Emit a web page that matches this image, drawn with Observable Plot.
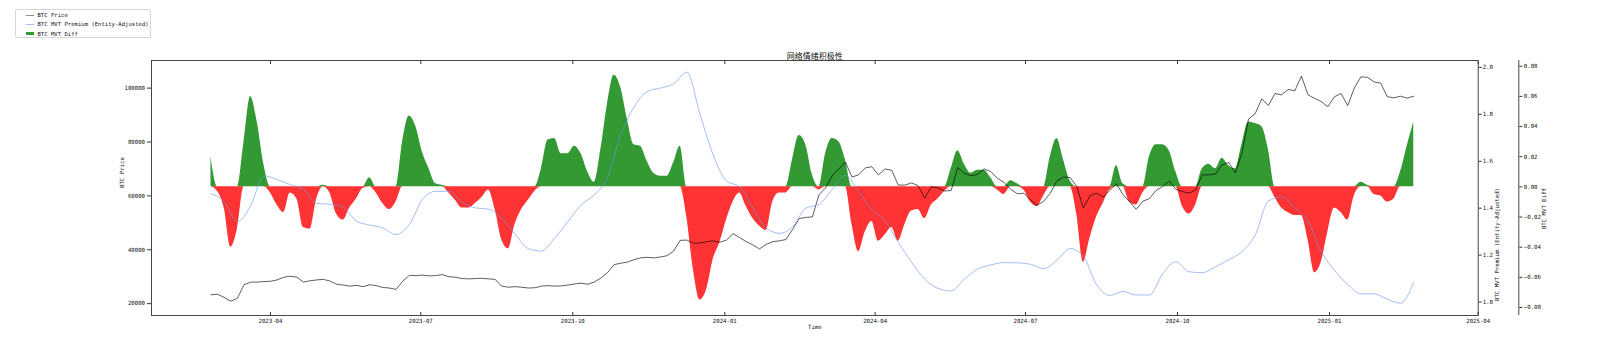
<!DOCTYPE html>
<html>
<head>
<meta charset="utf-8">
<script src="https://cdn.jsdelivr.net/npm/d3@7"></script>
<script src="https://cdn.jsdelivr.net/npm/@observablehq/plot@0.6"></script>
<style>
  body { margin: 0; background: #fff; overflow: hidden; }
  #wrap { position: relative; width: 1598px; height: 364px; }
  #legend { position: absolute; left: 15px; top: 9px; width: 136px; height: 29px; box-sizing: border-box;
    border: 1px solid #d6d6d6; border-radius: 2px; background: rgba(255,255,255,0.9);
    font-family: "DejaVu Sans Mono", monospace; font-size: 5.6px; color: #111; padding-top: 0.5px; }
  .row { height: 9.3px; display: flex; align-items: center; }
  .h { margin-left: 9.5px; width: 8.5px; flex: none; }
  .t { margin-left: 3.5px; white-space: nowrap; }
</style>
</head>
<body>
<div id="wrap">
  <div id="chart"></div>
  <div id="legend"></div>
</div>
<script>
// ---------- data ----------
const startDate = Date.UTC(2023, 1, 24);   // first observation
const stepDays = 4;                        // spacing of btcPrice / mvtDiff samples
const premStepDays = 8;                    // spacing of mvtPremium samples

const btcPrice = [
  23300, 23500, 22300, 20900, 22000, 27000, 28000, 28000, 28200, 28300,
  28800, 29800, 30200, 29800, 28000, 28500, 28800, 29000, 28400, 27200,
  26900, 26500, 26800, 26300, 27000, 26700, 26000, 25800, 25300, 28300,
  30500, 30400, 30600, 30300, 30400, 30800, 30000, 29800, 29300, 29200,
  29300, 29400, 29200, 29000, 26500, 26100, 26300, 26100, 25800, 25900,
  26500, 26700, 26500, 26600, 26900, 27300, 27600, 27200, 28000, 29500,
  31500, 34500, 35000, 35400, 36300, 37000, 37200, 37000, 37300, 37800,
  39500, 43500, 43600, 42400, 42500, 43000, 43300, 42800, 43600, 46000,
  44500, 43000, 41800, 40300, 42000, 43000, 43300, 43800, 47500, 51600,
  52000, 52200, 60400, 63000, 67500, 70000, 72500, 67000, 67800, 70400,
  70800, 67800, 70000, 69500, 64000, 64000, 64800, 63800, 59200, 63400,
  63000, 61800, 62000, 70500, 68400, 67500, 68000, 70000, 69000, 66500,
  65000, 62500, 60800, 61000, 58500, 56500, 58000, 61000, 65500, 67000,
  66800, 63500, 55500, 60000, 61000, 59500, 62000, 64500, 60500, 57800,
  55000, 58000, 59000, 62000, 63500, 65500, 62500, 61600, 61000, 62200,
  67800, 67800, 68200, 71500, 72400, 68500, 76000, 88500, 90500, 96000,
  93500, 98000, 97500, 99500, 99000, 104500, 97500, 96200, 95000, 93100,
  96800, 98000, 93500, 100000, 104200, 104000, 102300, 101800, 96800, 96400,
  97000, 96300, 97000
];

const mvtDiff = [
  0.020, -0.003, -0.014, -0.040, -0.028, 0.030, 0.060, 0.043, 0.015, -0.004,
  -0.012, -0.017, -0.004, -0.008, -0.027, -0.028, -0.008, 0.001, -0.004, -0.018,
  -0.022, -0.014, -0.008, -0.001, 0.006, -0.004, -0.011, -0.015, -0.010, 0.030,
  0.047, 0.040, 0.023, 0.012, 0.002, 0.001, -0.004, -0.009, -0.014, -0.014,
  -0.011, -0.007, -0.002, -0.015, -0.035, -0.041, -0.025, -0.015, -0.009, -0.003,
  0.012, 0.031, 0.032, 0.022, 0.022, 0.027, 0.022, 0.010, 0.003, 0.025,
  0.055, 0.074, 0.066, 0.045, 0.028, 0.027, 0.017, 0.009, 0.007, 0.007,
  0.016, 0.027, -0.020, -0.055, -0.075, -0.068, -0.048, -0.037, -0.022, -0.010,
  -0.004, -0.013, -0.021, -0.026, -0.029, -0.010, -0.004, -0.004, 0.018, 0.034,
  0.028, 0.008, -0.002, 0.022, 0.032, 0.030, 0.018, -0.025, -0.043, -0.030,
  -0.023, -0.036, -0.032, -0.027, -0.036, -0.025, -0.016, -0.015, -0.021, -0.012,
  -0.008, -0.003, 0.012, 0.024, 0.015, 0.009, 0.011, 0.011, 0.006, -0.002,
  -0.005, 0.004, 0.002, -0.002, -0.010, -0.013, -0.006, 0.020, 0.032, 0.018,
  0.004, -0.018, -0.050, -0.034, -0.020, -0.011, -0.002, 0.014, 0.002, -0.010,
  -0.012, -0.004, 0.020, 0.028, 0.028, 0.024, 0.010, -0.013, -0.018, -0.012,
  0.012, 0.015, 0.012, 0.019, 0.014, 0.012, 0.028, 0.043, 0.042, 0.040,
  0.025, -0.007, -0.014, -0.017, -0.019, -0.019, -0.035, -0.057, -0.050, -0.030,
  -0.014, -0.017, -0.022, -0.006, 0.003, 0.001, -0.005, -0.006, -0.010, -0.008,
  0.010, 0.027, 0.043
];

const mvtPremium = [
  1.462, 1.428, 1.343, 1.410, 1.538, 1.522, 1.500, 1.480, 1.420, 1.417,
  1.405, 1.345, 1.328, 1.316, 1.287, 1.330, 1.437, 1.472, 1.472, 1.425,
  1.401, 1.396, 1.356, 1.290, 1.228, 1.217, 1.272, 1.343, 1.413, 1.457,
  1.530, 1.711, 1.830, 1.897, 1.912, 1.930, 1.980, 1.800, 1.626, 1.516,
  1.491, 1.400, 1.316, 1.293, 1.320, 1.400, 1.416, 1.480, 1.540, 1.470,
  1.395, 1.345, 1.255, 1.170, 1.098, 1.058, 1.047, 1.098, 1.140, 1.158,
  1.168, 1.167, 1.161, 1.142, 1.178, 1.228, 1.195, 1.075, 1.028, 1.045,
  1.030, 1.030, 1.120, 1.172, 1.129, 1.125, 1.150, 1.180, 1.215, 1.285,
  1.430, 1.448, 1.402, 1.345, 1.215, 1.135, 1.075, 1.035, 1.035, 1.012,
  0.995, 1.085
];

const xTickLabels = ["2023-04", "2023-07", "2023-10", "2024-01", "2024-04", "2024-07", "2024-10", "2025-01", "2025-04"];
const priceTicks = [20000, 40000, 60000, 80000, 100000];
const premTicks = [1.0, 1.2, 1.4, 1.6, 1.8, 2.0];
const diffTicks = [-0.08, -0.06, -0.04, -0.02, 0.00, 0.02, 0.04, 0.06, 0.08];

const titleText = "网络情绪积极性";
const xLabel = "Time";
const priceLabel = "BTC Price";
const premLabel = "BTC MVT Premium (Entity-Adjusted)";
const diffLabel = "BTC MVT Diff";

// ---------- scales for the three y axes ----------
const priceDomain = [15600, 110250];
const premDomain = [0.9425, 2.0295];
const diffDomain = [-0.0853, 0.0838];
const xDomain = [new Date(Date.UTC(2023, 0, 19)), new Date(Date.UTC(2025, 3, 1))];

const toP = dom => v => priceDomain[0] + (v - dom[0]) / (dom[1] - dom[0]) * (priceDomain[1] - priceDomain[0]);
const fromP = dom => p => dom[0] + (p - priceDomain[0]) / (priceDomain[1] - priceDomain[0]) * (dom[1] - dom[0]);
const toPrem = toP(premDomain), fromPrem = fromP(premDomain);
const toDiff = toP(diffDomain), fromDiff = fromP(diffDomain);

const DAY = 864e5;
const rows = btcPrice.map((p, i) => ({ date: new Date(startDate + i * stepDays * DAY), price: p, diff: mvtDiff[i] }));
const premRows = mvtPremium.map((m, i) => ({ date: new Date(startDate + i * premStepDays * DAY), prem: m }));
const xTicks = xTickLabels.map(s => { const [y, m] = s.split("-").map(Number); return new Date(Date.UTC(y, m - 1, 1)); });

const GREEN = "#008000", RED = "#ff0000", PRICE = "#000000", PREM = "#6495ED";
const FS = 5.7;
const zero = toDiff(0);

const chart = Plot.plot({
  width: 1598, height: 364,
  marginLeft: 151, marginRight: 120.3, marginTop: 60, marginBottom: 49,
  style: { fontFamily: "'DejaVu Sans Mono', monospace", fontSize: FS + "px", color: "#111", background: "#fff" },
  x: { type: "utc", domain: xDomain },
  y: { domain: priceDomain },
  marks: [
    Plot.areaY(rows, { x: "date", y1: () => zero, y2: d => toDiff(Math.max(d.diff, 0)), fill: GREEN, fillOpacity: 0.8, curve: "monotone-x" }),
    Plot.areaY(rows, { x: "date", y1: () => zero, y2: d => toDiff(Math.min(d.diff, 0)), fill: RED, fillOpacity: 0.8, curve: "monotone-x" }),
    Plot.line(rows, { x: "date", y: "price", stroke: PRICE, strokeOpacity: 0.75, strokeWidth: 0.85 }),
    Plot.line(premRows, { x: "date", y: d => toPrem(d.prem), stroke: PREM, strokeOpacity: 0.6, strokeWidth: 1, curve: "monotone-x" }),
    Plot.frame({ stroke: "#333", strokeWidth: 0.9 }),
    // x axis
    Plot.axisX(xTicks, { anchor: "bottom", tickSize: 3, dy: -3, fill: "none", label: null, stroke: "#333" }),
    Plot.axisX(xTicks, { anchor: "top", tickSize: 3, dy: 3, fill: "none", label: null, stroke: "#333" }),
    Plot.axisX(xTicks, { anchor: "bottom", tickSize: 0, tickPadding: 3, label: null, fontSize: FS, tickFormat: d3.utcFormat("%Y-%m") }),
    // left price axis
    Plot.axisY(priceTicks, { anchor: "left", tickSize: 4, tickPadding: 2.5, label: null, fontSize: FS, stroke: "#333", tickFormat: d => String(d) }),
    // right premium axis
    Plot.axisY(premTicks.map(toPrem), { anchor: "right", tickSize: 3, tickPadding: 1.5, label: null, fontSize: FS, stroke: "#333", tickFormat: d => d3.format(".1f")(fromPrem(d)) }),
    // offset diff axis with its own spine
    Plot.ruleX([xDomain[1]], { dx: 40.6, stroke: "#333", strokeWidth: 0.9 }),
    Plot.axisY(diffTicks.map(toDiff), { anchor: "right", dx: 40.6, tickSize: 3, tickPadding: 2, label: null, fontSize: FS, stroke: "#333", tickFormat: d => d3.format(".2f")(fromDiff(d)) }),
    // titles
    Plot.text([titleText], { frameAnchor: "top", dy: -6.7, fontFamily: "'Noto Sans CJK SC', sans-serif", fontSize: 8, fill: "#111" }),
    Plot.text([xLabel], { frameAnchor: "bottom", dy: 13.3, fontSize: FS, fill: "#111" }),
    Plot.text([priceLabel], { frameAnchor: "left", dx: -29.3, rotate: -90, fontSize: FS, fill: "#111" }),
    Plot.text([premLabel], { frameAnchor: "right", dx: 19.3, rotate: -90, fontSize: FS, fill: "#111" }),
    Plot.text([diffLabel], { frameAnchor: "right", dx: 66.3, rotate: -90, fontSize: FS, fill: "#111" })
  ]
});
document.getElementById("chart").appendChild(chart);

// ---------- legend ----------
const legendItems = [
  { label: priceLabel, kind: "line", color: PRICE, opacity: 0.45 },
  { label: premLabel, kind: "line", color: PREM, opacity: 0.6 },
  { label: diffLabel, kind: "rect", color: GREEN, opacity: 0.8 }
];
const legend = d3.select("#legend");
for (const it of legendItems) {
  const row = legend.append("div").attr("class", "row");
  const h = row.append("div").attr("class", "h");
  if (it.kind === "line") h.style("height", "0").style("border-top", `1px solid ${it.color}`).style("opacity", it.opacity);
  else h.style("height", "3.4px").style("background", it.color).style("opacity", it.opacity);
  row.append("div").attr("class", "t").text(it.label);
}
</script>
</body>
</html>
